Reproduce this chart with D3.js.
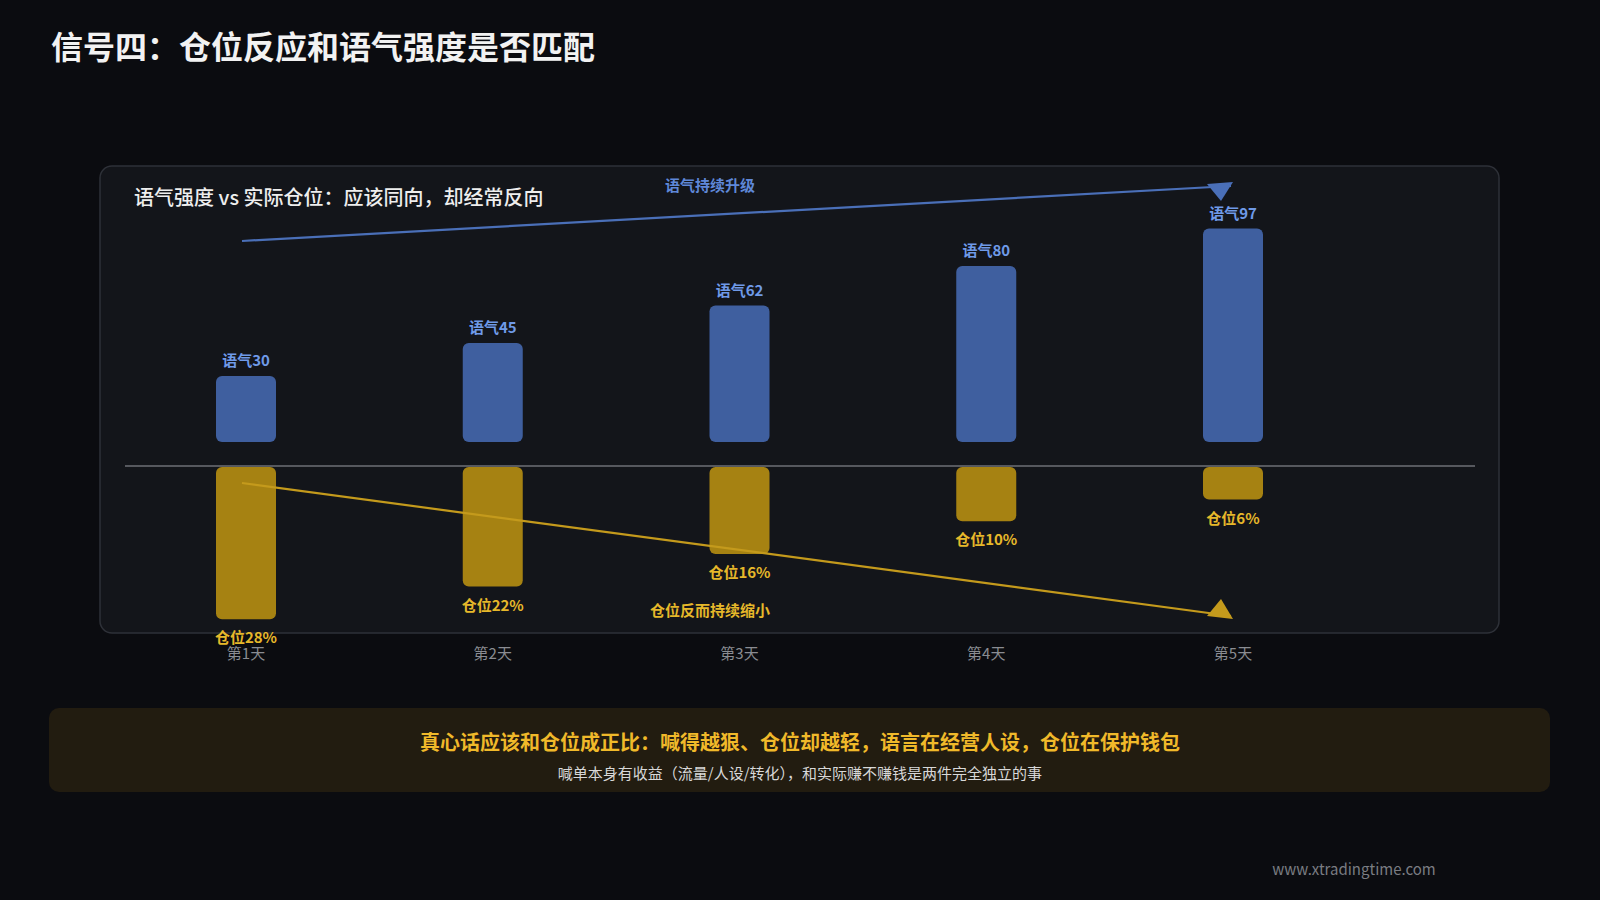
<!DOCTYPE html>
<html><head><meta charset="utf-8">
<script src="https://cdn.jsdelivr.net/npm/d3@7"></script>
<style>
body{margin:0;background:#0b0c10;font-family:"Noto Sans CJK SC","Noto Sans",sans-serif;}
</style></head>
<body><svg id="chart" width="1600" height="900"></svg>
<script>
const days = ["第1天", "第2天", "第3天", "第4天", "第5天"];
const tone = [30, 45, 62, 80, 97];
const position = [28, 22, 16, 10, 6];

const svg = d3.select("#chart");
const width = 1600, height = 900;
svg.append("rect").attr("width", width).attr("height", height).attr("fill", "#0b0c10");

svg.append("text").attr("x", 51).attr("y", 59).attr("fill", "#f2f2f2")
  .attr("font-size", 32).attr("font-weight", 600).text("信号四：仓位反应和语气强度是否匹配");

// panel
svg.append("rect").attr("x", 100).attr("y", 166).attr("width", 1399).attr("height", 467)
  .attr("rx", 12).attr("fill", "#13151a").attr("stroke", "#2e3138").attr("stroke-width", 1.5);
svg.append("text").attr("x", 134).attr("y", 205).attr("fill", "#eeeeee")
  .attr("font-size", 20).attr("font-weight", 500).text("语气强度 vs 实际仓位：应该同向，却经常反向");

const x = d3.scalePoint().domain(days).range([246, 1233]);
const base = 466;
const yUp = d3.scaleLinear().domain([0, 100]).range([base - 24, base - 24 - 220]);
const yDown = d3.scaleLinear().domain([0, 30]).range([base + 1, base + 1 + 163]);
const bw = 60;

svg.append("line").attr("x1", 125).attr("x2", 1475).attr("y1", base).attr("y2", base)
  .attr("stroke", "#9a9ca2").attr("stroke-width", 1.2);

svg.selectAll(".tone").data(tone).enter().append("rect")
  .attr("x", (d, i) => x(days[i]) - bw / 2).attr("y", d => yUp(d))
  .attr("width", bw).attr("height", d => yUp(0) - yUp(d)).attr("rx", 6)
  .attr("fill", "#3f5f9f");
svg.selectAll(".toneLbl").data(tone).enter().append("text")
  .attr("x", (d, i) => x(days[i])).attr("y", d => yUp(d) - 10)
  .attr("text-anchor", "middle").attr("fill", "#6f9ae8").attr("font-size", 15).attr("font-weight", 600)
  .text(d => "语气" + d);

svg.selectAll(".pos").data(position).enter().append("rect")
  .attr("x", (d, i) => x(days[i]) - bw / 2).attr("y", yDown(0))
  .attr("width", bw).attr("height", d => yDown(d) - yDown(0)).attr("rx", 6)
  .attr("fill", "#a68212");
svg.selectAll(".posLbl").data(position).enter().append("text")
  .attr("x", (d, i) => x(days[i])).attr("y", d => yDown(d) + 24)
  .attr("text-anchor", "middle").attr("fill", "#e6b82a").attr("font-size", 15).attr("font-weight", 600)
  .text(d => "仓位" + d + "%");

svg.selectAll(".day").data(days).enter().append("text")
  .attr("x", d => x(d)).attr("y", 659).attr("text-anchor", "middle")
  .attr("fill", "#8a8c92").attr("font-size", 15).text(d => d);

// trend arrows
const m5 = x(days[4]) - 14;
svg.append("line").attr("x1", x(days[0]) - 4).attr("y1", 241).attr("x2", m5 + 12).attr("y2", 186)
  .attr("stroke", "#4a6fb8").attr("stroke-width", 2.2);
svg.append("path").attr("d", `M${m5 - 12},${184}L${m5 + 14},${182}L${m5 + 2},${201}Z`).attr("fill", "#4a6fb8");
svg.append("line").attr("x1", x(days[0]) - 4).attr("y1", 483).attr("x2", m5 + 12).attr("y2", 616)
  .attr("stroke", "#c49a1c").attr("stroke-width", 2.2);
svg.append("path").attr("d", `M${m5 - 12},${616}L${m5 + 14},${619}L${m5 + 2},${599}Z`).attr("fill", "#c49a1c");

svg.append("text").attr("x", 710).attr("y", 191).attr("text-anchor", "middle")
  .attr("fill", "#5f88d8").attr("font-size", 15).attr("font-weight", 600).text("语气持续升级");
svg.append("text").attr("x", 710).attr("y", 616).attr("text-anchor", "middle")
  .attr("fill", "#e6b82a").attr("font-size", 15).attr("font-weight", 600).text("仓位反而持续缩小");

// bottom note
svg.append("rect").attr("x", 49).attr("y", 708).attr("width", 1501).attr("height", 84).attr("rx", 10)
  .attr("fill", "#221c10");
svg.append("text").attr("x", 800).attr("y", 750).attr("text-anchor", "middle").attr("fill", "#f0b92a")
  .attr("font-size", 20).attr("font-weight", 700).text("真心话应该和仓位成正比：喊得越狠、仓位却越轻，语言在经营人设，仓位在保护钱包");
svg.append("text").attr("x", 800).attr("y", 779).attr("text-anchor", "middle").attr("fill", "#d8d8d8")
  .attr("font-size", 15).text("喊单本身有收益（流量/人设/转化），和实际赚不赚钱是两件完全独立的事");

svg.append("text").attr("x", 1354).attr("y", 875).attr("text-anchor", "middle").attr("fill", "#7a7c82")
  .attr("font-size", 15).text("www.xtradingtime.com");
</script></body></html>
